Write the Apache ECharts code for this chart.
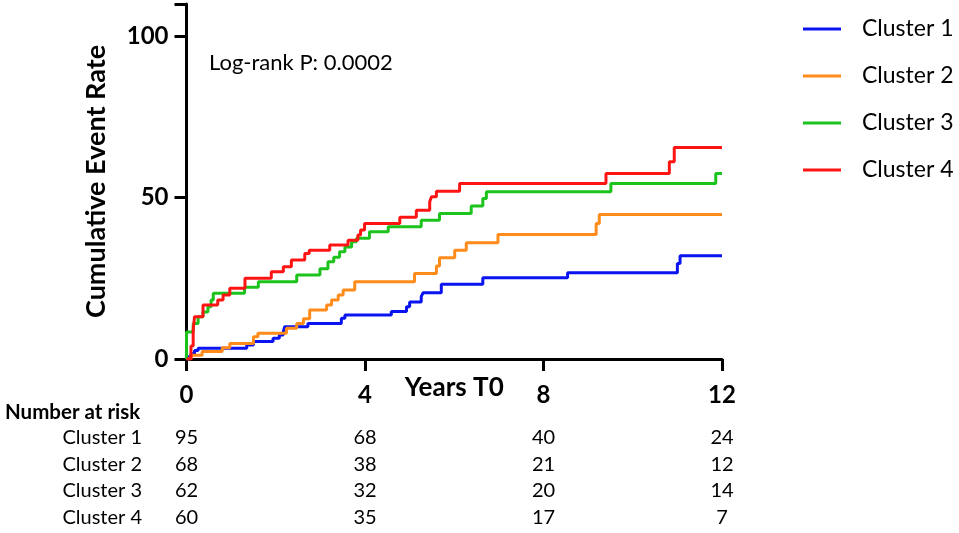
<!DOCTYPE html>
<html><head><meta charset="utf-8">
<script src="https://cdn.jsdelivr.net/npm/echarts@6/dist/echarts.min.js"></script>
<style>html,body{margin:0;padding:0;background:#fff}#c{width:959px;height:533px}</style>
</head><body><div id="c"></div>
<script>
const seriesNames = ['Cluster 1', 'Cluster 2', 'Cluster 3', 'Cluster 4'];
const seriesColors = ['#0a14f0', '#ff8c1a', '#1cc31c', '#ff1414'];

// [years, cumulative event rate] — step points (value holds from that time on)
const cluster1 = [[0,0],[0.05,0.8],[0.1,1.6],[0.18,2.6],[0.26,3.3],[1.35,4.3],[1.5,5.4],[1.94,6.4],[2.08,7.4],[2.17,8.5],[2.2,10],[2.72,11],[3.47,12.6],[3.55,13.6],[4.59,14.7],[4.93,16.2],[5.0,17.7],[5.26,19.3],[5.3,20.5],[5.71,23.2],[6.64,25.2],[8.54,26.7],[11.0,29.6],[11.06,32],[12,32]];
const cluster2 = [[0,0],[0.1,1.2],[0.35,2.3],[0.8,3.5],[0.97,4.8],[1.5,6.9],[1.6,8.0],[2.24,9.5],[2.47,11],[2.62,12.5],[2.76,15.2],[3.14,16.7],[3.25,18.3],[3.4,19.8],[3.51,21.4],[3.77,23.9],[5.11,26.5],[5.6,28.8],[5.67,31.4],[6.01,33.7],[6.27,36],[6.98,38.6],[9.18,42],[9.25,44.8],[12,44.8]];
const cluster3 = [[0,0],[0,8.4],[0.15,11],[0.26,13.1],[0.37,14.6],[0.48,16.2],[0.55,18.3],[0.6,20.4],[1.3,22.2],[1.61,23.9],[2.47,26],[2.99,28],[3.17,30.1],[3.3,31.5],[3.43,33.2],[3.55,34.7],[3.7,36.3],[3.81,37.4],[4.1,39.4],[4.52,41],[5.26,43],[5.67,45.1],[6.38,47.4],[6.64,49.7],[6.72,51.8],[9.51,54.4],[11.86,57.5],[12,57.5]];
const cluster4 = [[0,0],[0.1,4],[0.15,9],[0.18,13.1],[0.37,16.7],[0.70,18.3],[0.82,19.8],[0.97,21.9],[1.31,25],[1.9,27],[2.17,28.6],[2.35,30.7],[2.65,32.7],[2.75,33.7],[3.21,35.3],[3.62,36.8],[3.84,38.4],[3.9,40],[3.99,42],[4.78,43.9],[5.15,46.1],[5.45,48.7],[5.49,50.3],[5.6,52],[6.12,54.4],[9.4,57.5],[10.82,61.1],[10.93,65.5],[12,65.5]];

const xTicks = [0, 4, 8, 12];
const risk1 = [95, 68, 40, 24];
const risk2 = [68, 38, 21, 12];
const risk3 = [62, 32, 20, 14];
const risk4 = [60, 35, 17, 7];
const riskRows = [risk1, risk2, risk3, risk4];
const pValueText = 'Log-rank P: 0.0002';
const xAxisTitle = 'Years T0';
const yAxisTitle = 'Cumulative Event Rate';

const FONT = 'Lato';
const chart = echarts.init(document.getElementById('c'), null, {renderer: 'canvas'});
const allData = [cluster1, cluster2, cluster3, cluster4];

const option = {
  animation: false,
  backgroundColor: '#fff',
  grid: {left: 186.5, right: 237, top: 4, bottom: 174},
  xAxis: {
    type: 'value', min: 0, max: 12, interval: 4,
    axisLine: {lineStyle: {color: '#000', width: 3}},
    axisTick: {length: 12, lineStyle: {color: '#000', width: 3}},
    axisLabel: {color: '#000', fontWeight: 'bold', fontSize: 24, fontFamily: FONT, margin: 24},
    splitLine: {show: false}
  },
  yAxis: {
    type: 'value', min: 0, max: 110, interval: 50,
    axisLine: {show: true, lineStyle: {color: '#000', width: 3}},
    axisTick: {show: true, length: 12, lineStyle: {color: '#000', width: 3}},
    axisLabel: {color: '#000', fontWeight: 'bold', fontSize: 24, fontFamily: FONT, margin: 18,
      formatter: v => (v % 50 === 0 ? String(v) : '')},
    splitLine: {show: false},
    name: yAxisTitle, nameLocation: 'middle', nameGap: 77,
    nameTextStyle: {color: '#000', fontWeight: 'bold', fontSize: 27, fontFamily: FONT}
  },
  legend: {
    orient: 'vertical', left: 798, top: 10,
    itemWidth: 38, itemHeight: 3, itemGap: 19, icon: 'rect',
    textStyle: {color: '#000', fontSize: 23, fontFamily: FONT, lineHeight: 28, padding: [0, 0, 0, 16]},
    data: seriesNames
  },
  series: allData.map((d, i) => ({
    name: seriesNames[i], type: 'line', step: 'end', data: d,
    showSymbol: false, symbol: 'none',
    color: seriesColors[i],
    lineStyle: {color: seriesColors[i], width: 3},
    itemStyle: {color: seriesColors[i]}
  }))
};
chart.setOption(option);

const graphics = [];
graphics.push({type: 'text', x: 209, y: 63, style: {text: pValueText, fontSize: 22, fontFamily: FONT, fill: '#000', verticalAlign: 'middle'}});
graphics.push({type: 'text', x: chart.convertToPixel({xAxisIndex: 0}, 6), y: 388, style: {text: xAxisTitle, fontSize: 26, fontWeight: 'bold', fontFamily: FONT, fill: '#000', align: 'center', verticalAlign: 'middle'}});
graphics.push({type: 'text', x: 5, y: 412, style: {text: 'Number at risk', fontSize: 20.5, fontWeight: 'bold', fontFamily: FONT, fill: '#000', align: 'left', verticalAlign: 'middle'}});
const rowY = [438, 465, 491, 518];
riskRows.forEach((row, r) => {
  graphics.push({type: 'text', x: 142, y: rowY[r], style: {text: seriesNames[r], fontSize: 20, fontFamily: FONT, fill: '#000', align: 'right', verticalAlign: 'middle'}});
  row.forEach((n, k) => {
    const px = chart.convertToPixel({xAxisIndex: 0}, xTicks[k]);
    graphics.push({type: 'text', x: px, y: rowY[r], style: {text: String(n), fontSize: 20, fontFamily: FONT, fill: '#000', align: 'center', verticalAlign: 'middle'}});
  });
});
chart.setOption({graphic: graphics});
</script></body></html>
